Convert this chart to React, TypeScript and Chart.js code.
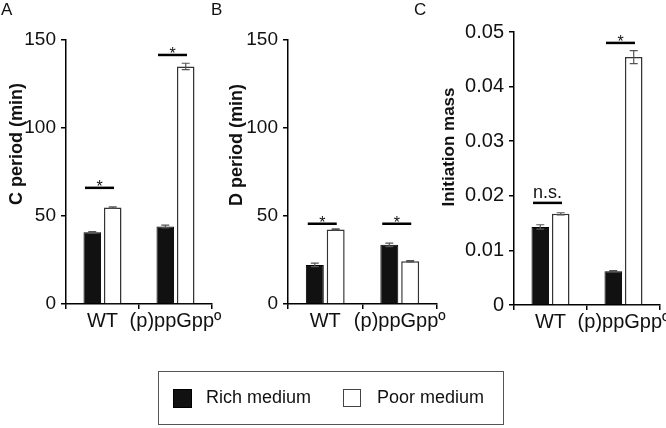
import React, { useEffect, useRef } from 'react';
import { Chart, registerables } from 'chart.js';

Chart.register(...registerables);

// ---- data ----
const categories = ['WT', '(p)ppGppº'];
const seriesNames = ['Rich medium', 'Poor medium'];

const cPeriodRich = [40.7, 44.0];
const cPeriodPoor = [54.8, 135.0];
const cPeriodRichErr = [0.4, 0.8];
const cPeriodPoorErr = [0.4, 1.8];
const cPeriodSig = [66, 141.5];
const cPeriodSigText = ['*', '*'];

const dPeriodRich = [22.2, 33.6];
const dPeriodPoor = [42.4, 24.3];
const dPeriodRichErr = [1.0, 1.0];
const dPeriodPoorErr = [0.3, 0.4];
const dPeriodSig = [45.6, 45.6];
const dPeriodSigText = ['*', '*'];

const massRich = [0.0143, 0.0062];
const massPoor = [0.0167, 0.0454];
const massRichErr = [0.0004, 0.0001];
const massPoorErr = [0.0002, 0.0012];
const massSig = [0.0187, 0.048];
const massSigText = ['n.s.', '*'];

const periodTicks = [0, 50, 100, 150];
const massTicks = [0, 0.01, 0.02, 0.03, 0.04, 0.05];

const FONT = '"Liberation Sans", Arial, Helvetica, sans-serif';
const CW = 720;
const CH = 428;

type Panel = {
  letter: string;
  title: string;
  rich: number[];
  poor: number[];
  richErr: number[];
  poorErr: number[];
  sig: number[];
  sigText: string[];
  ticks: number[];
  fmt: (v: number) => string;
  axisX: number;
  right: number;
  top: number;
  bottom: number;
  letterX: number;
  titleX: number;
  titleY: number;
  titleSize: number;
  tickSize: number;
};

const panels: Panel[] = [
  {
    letter: 'A', title: 'C period (min)',
    rich: cPeriodRich, poor: cPeriodPoor, richErr: cPeriodRichErr, poorErr: cPeriodPoorErr,
    sig: cPeriodSig, sigText: cPeriodSigText, ticks: periodTicks, fmt: (v) => String(v),
    axisX: 66, right: 212, top: 40, bottom: 304, letterX: 1, titleX: 17, titleY: 144, titleSize: 18, tickSize: 19,
  },
  {
    letter: 'B', title: 'D period (min)',
    rich: dPeriodRich, poor: dPeriodPoor, richErr: dPeriodRichErr, poorErr: dPeriodPoorErr,
    sig: dPeriodSig, sigText: dPeriodSigText, ticks: periodTicks, fmt: (v) => String(v),
    axisX: 288, right: 437, top: 40, bottom: 304, letterX: 211, titleX: 237, titleY: 145, titleSize: 18, tickSize: 19,
  },
  {
    letter: 'C', title: 'Initiation mass',
    rich: massRich, poor: massPoor, richErr: massRichErr, poorErr: massPoorErr,
    sig: massSig, sigText: massSigText, ticks: massTicks, fmt: (v) => (v === 0 ? '0' : v.toFixed(2)),
    axisX: 514, right: 660, top: 32, bottom: 305, letterX: 414, titleX: 449, titleY: 147, titleSize: 17, tickSize: 20,
  },
];

function makeChart(canvas: HTMLCanvasElement, p: Panel) {
  const errs = [p.richErr, p.poorErr];
  const overlay = {
    id: 'overlay' + p.letter,
    afterDatasetsDraw(chart: any) {
      const ctx = chart.ctx;
      const ys = chart.scales.y;
      const xs = chart.scales.x;
      ctx.save();
      // error bars
      [0, 1].forEach((di) => {
        const meta = chart.getDatasetMeta(di);
        const vals = chart.data.datasets[di].data as number[];
        meta.data.forEach((el: any, i: number) => {
          const v = vals[i];
          const e = errs[di][i];
          const yt = ys.getPixelForValue(v + e);
          const yb = ys.getPixelForValue(v - e);
          ctx.strokeStyle = '#555';
          ctx.lineWidth = 1.2;
          ctx.beginPath();
          ctx.moveTo(el.x, yt);
          ctx.lineTo(el.x, yb);
          ctx.moveTo(el.x - 4, yt);
          ctx.lineTo(el.x + 4, yt);
          ctx.moveTo(el.x - 4, yb);
          ctx.lineTo(el.x + 4, yb);
          ctx.stroke();
        });
      });
      // significance lines
      p.sig.forEach((sv, i) => {
        const cx = xs.getPixelForValue(i) - 3;
        const y = ys.getPixelForValue(sv);
        ctx.strokeStyle = '#000';
        ctx.lineWidth = 2.5;
        ctx.beginPath();
        ctx.moveTo(cx - 14.5, y);
        ctx.lineTo(cx + 14.5, y);
        ctx.stroke();
        ctx.fillStyle = '#111';
        ctx.textAlign = 'center';
        ctx.textBaseline = 'alphabetic';
        const t = p.sigText[i];
        if (t === '*') {
          ctx.font = `16px ${FONT}`;
          ctx.fillText(t, cx, y + 4);
        } else {
          ctx.font = `18px ${FONT}`;
          ctx.fillText(t, cx, y - 4.5);
        }
      });
      // panel letter
      ctx.fillStyle = '#111';
      ctx.font = `17px ${FONT}`;
      ctx.textAlign = 'left';
      ctx.textBaseline = 'alphabetic';
      ctx.fillText(p.letter, p.letterX, 15);
      // y title
      ctx.translate(p.titleX, p.titleY);
      ctx.rotate(-Math.PI / 2);
      ctx.font = `bold ${p.titleSize}px ${FONT}`;
      ctx.textAlign = 'center';
      ctx.textBaseline = 'middle';
      ctx.fillText(p.title, 0, 0);
      ctx.restore();
    },
  };

  const common = { categoryPercentage: 0.56, barPercentage: 0.86 };
  return new Chart(canvas, {
    type: 'bar',
    data: {
      labels: categories,
      datasets: [
        { label: seriesNames[0], data: p.rich, backgroundColor: '#111', borderColor: '#000', borderWidth: 1, ...common },
        { label: seriesNames[1], data: p.poor, backgroundColor: '#fff', borderColor: '#333', borderWidth: 1.5, ...common },
      ],
    },
    options: {
      responsive: false,
      animation: false,
      events: [],
      layout: { padding: { left: 0, top: p.top, right: CW - p.right, bottom: 0 } },
      plugins: { legend: { display: false }, tooltip: { enabled: false }, title: { display: false } },
      scales: {
        x: {
          type: 'category',
          offset: true,
          grid: { display: true, drawOnChartArea: false, drawTicks: true, tickLength: 5, offset: true, color: '#000', lineWidth: 1.5 },
          border: { display: true, color: '#000', width: 1.5 },
          ticks: { color: '#111', font: { family: FONT, size: 20 }, padding: 0, maxRotation: 0, autoSkip: false },
          afterFit: (s: any) => { s.height = CH - p.bottom; },
        },
        y: {
          type: 'linear',
          min: p.ticks[0],
          max: p.ticks[p.ticks.length - 1],
          grid: { display: true, drawOnChartArea: false, drawTicks: true, tickLength: 5, color: '#000', lineWidth: 1.5 },
          border: { display: true, color: '#000', width: 1.5 },
          ticks: { color: '#111', font: { family: FONT, size: p.tickSize }, padding: 5, callback: (v: any) => p.fmt(Number(v)) },
          afterBuildTicks: (s: any) => { s.ticks = p.ticks.map((v) => ({ value: v })); },
          afterFit: (s: any) => { s.width = p.axisX; },
        },
      },
    },
    plugins: [overlay],
  } as any);
}

export default function App() {
  const refs = [useRef<HTMLCanvasElement>(null), useRef<HTMLCanvasElement>(null), useRef<HTMLCanvasElement>(null)];
  useEffect(() => {
    document.body.style.margin = '0';
    const charts = panels.map((p, i) => makeChart(refs[i].current as HTMLCanvasElement, p));
    return () => charts.forEach((c) => c.destroy());
  }, []);

  const legendText = { position: 'absolute' as const, top: 386, fontFamily: FONT, fontSize: 18, color: '#111', lineHeight: '22px', whiteSpace: 'nowrap' as const };
  return (
    <div style={{ position: 'relative', width: 666, height: 428, overflow: 'hidden', background: '#fff' }}>
      {panels.map((p, i) => (
        <canvas key={p.letter} ref={refs[i]} width={CW} height={CH} style={{ position: 'absolute', left: 0, top: 0 }} />
      ))}
      <div style={{ position: 'absolute', left: 158, top: 371, width: 344, height: 52, border: '1.5px solid #555' }} />
      <div style={{ position: 'absolute', left: 173, top: 389, width: 17, height: 17, background: '#111', border: '1px solid #000' }} />
      <div style={{ ...legendText, left: 206 }}>{seriesNames[0]}</div>
      <div style={{ position: 'absolute', left: 343, top: 389, width: 16, height: 16, background: '#fff', border: '1.2px solid #444' }} />
      <div style={{ ...legendText, left: 377 }}>{seriesNames[1]}</div>
    </div>
  );
}
